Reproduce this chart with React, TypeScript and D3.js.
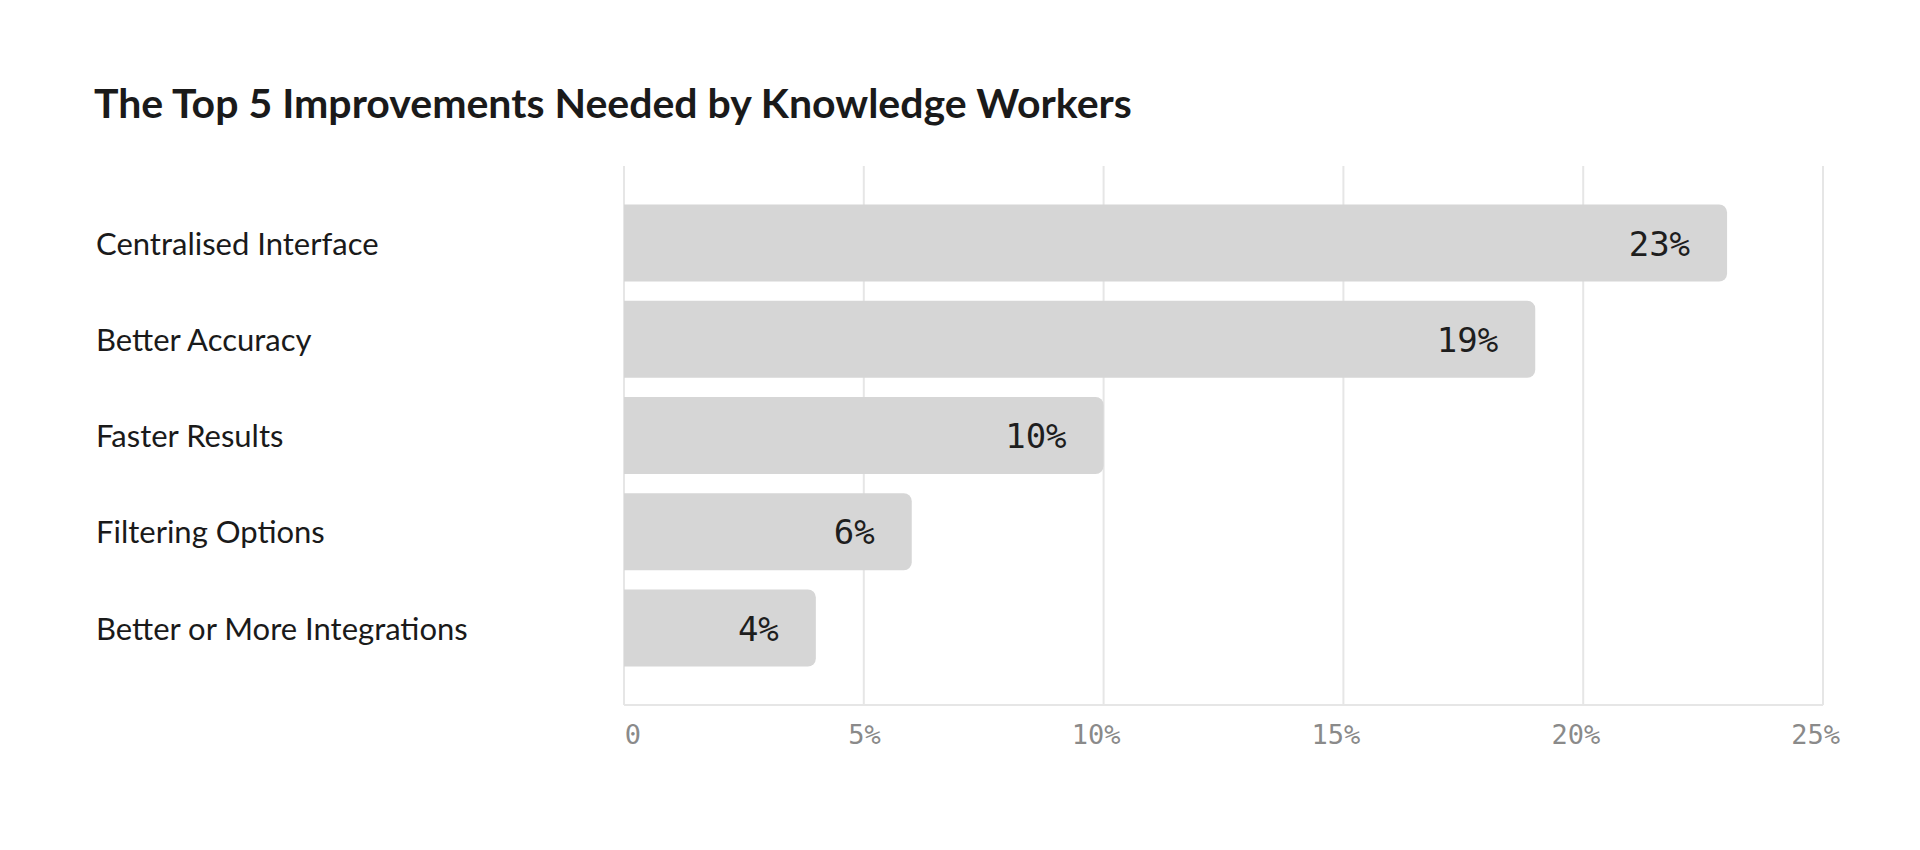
import React from 'react';
import * as d3 from 'd3';

const title = "The Top 5 Improvements Needed by Knowledge Workers";
const categories = [
  "Centralised Interface",
  "Better Accuracy",
  "Faster Results",
  "Filtering Options",
  "Better or More Integrations",
];
const values = [23, 19, 10, 6, 4];
const valueLabels = ["23%", "19%", "10%", "6%", "4%"];
const tickValues = [0, 5, 10, 15, 20, 25];
const tickLabels = ["0", "5%", "10%", "15%", "20%", "25%"];

export default function App() {
  const W = 1920;
  const H = 850;
  const x = d3.scaleLinear().domain([0, 25]).range([624, 1823]);
  const y = d3
    .scaleBand<string>()
    .domain(categories)
    .range([166, 705])
    .paddingInner(0.2)
    .paddingOuter(0.4);
  const r = 8;
  const bw = y.bandwidth();
  const [top, bottom] = y.range();

  const barPath = (v: number, cat: string) => {
    const x0 = x(0);
    const x1 = x(v);
    const y0 = y(cat) as number;
    const p = d3.path();
    p.moveTo(x0, y0);
    p.lineTo(x1 - r, y0);
    p.arcTo(x1, y0, x1, y0 + r, r);
    p.lineTo(x1, y0 + bw - r);
    p.arcTo(x1, y0 + bw, x1 - r, y0 + bw, r);
    p.lineTo(x0, y0 + bw);
    p.closePath();
    return p.toString();
  };

  const sans = "Lato, 'Noto Sans', sans-serif";
  const mono = "'DejaVu Sans Mono', monospace";

  return (
    <svg
      width={W}
      height={H}
      style={{ position: 'absolute', left: 0, top: 0, background: '#fff' }}
    >
      <rect x={0} y={0} width={W} height={H} fill="#ffffff" />
      <text x={94} y={118} fontFamily={sans} fontWeight={700} fontSize={41} fill="#1a1a1a">
        {title}
      </text>
      {tickValues.map((t) => (
        <line key={'g' + t} x1={x(t)} x2={x(t)} y1={top} y2={bottom} stroke="#e6e6e6" strokeWidth={2} />
      ))}
      <line x1={x(0)} x2={x(25)} y1={bottom} y2={bottom} stroke="#e6e6e6" strokeWidth={2} />
      {categories.map((c, i) => (
        <g key={c}>
          <path d={barPath(values[i], c)} fill="#d6d6d6" />
          <text
            x={x(values[i]) - 37}
            y={(y(c) as number) + bw / 2 + 12.5}
            textAnchor="end"
            fontFamily={mono}
            fontSize={34}
            fill="#1e1e1e"
          >
            {valueLabels[i]}
          </text>
          <text
            x={96}
            y={(y(c) as number) + bw / 2 + 11.5}
            fontFamily={sans}
            fontSize={31}
            fill="#1a1a1a"
          >
            {c}
          </text>
        </g>
      ))}
      {tickValues.map((t, i) => (
        <text
          key={'t' + t}
          x={x(t) + 17}
          y={744}
          textAnchor="end"
          fontFamily={mono}
          fontSize={27}
          fill="#8a8a8a"
        >
          {tickLabels[i]}
        </text>
      ))}
    </svg>
  );
}
